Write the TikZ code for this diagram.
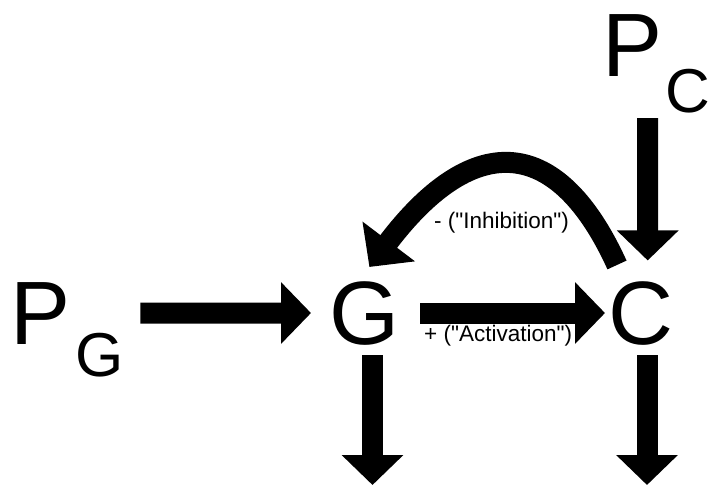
\documentclass[tikz,border=0pt]{standalone}
\usepackage{fontspec}
\setmainfont{Liberation Sans}
\newfontfamily\lblfont{Liberation Sans}[Ligatures=TeXOff]
\usetikzlibrary{arrows.meta}
\begin{document}
\begin{tikzpicture}[x=1pt,y=-1pt,
  big/.style={inner sep=0pt, anchor=base west, font=\fontsize{90}{100}\selectfont},
  subs/.style={inner sep=0pt, anchor=base west, font=\fontsize{62}{70}\selectfont},
  lbl/.style={inner sep=0pt, anchor=base west, font=\lblfont\fontsize{22.5}{26}\selectfont},
  fat/.style={line width=21pt, -{Triangle[length=30pt,width=60pt]}},
  bent/.style={line width=21pt, -{Triangle[length=32pt,width=64pt]}},
]
\useasboundingbox (0,0) rectangle (710,487);
\node[big] (PG) at (10,344) {P};
\node[subs] (PGs) at (75,376) {G};
\node[big] (G) at (329,344) {G};
\node[big] (C) at (608,344) {C};
\node[big] (PC) at (602,77) {P};
\node[subs] (PCs) at (665,112) {C};
\coordinate (Gout) at (372.5,485);
\coordinate (Cout) at (647,485);
\draw[fat, shorten <=70pt, shorten >=18pt] (PG) -- (G);
\draw[fat, shorten <=21pt, shorten >=3pt] (G) -- (C);
\draw[fat] ([xshift=15.5pt,yshift=-41pt]PC.south) -- ([xshift=7pt,yshift=20.5pt]C.north);
\draw[fat, shorten <=10pt] (G.south -| Gout) -- (Gout);
\draw[fat, shorten <=10pt] (C.south -| Cout) -- (Cout);
\draw[bent] ([shift={(9pt,16pt)}]C.north west) .. controls +(-62,-136) and +(100,-132) .. ([shift={(-30pt,14pt)}]G.north east);
\node[lbl] (inh) at (434,228) {- ("Inhibition")};
\node[lbl] (act) at (424,341) {+ ("Activation")};
\end{tikzpicture}
\end{document}
